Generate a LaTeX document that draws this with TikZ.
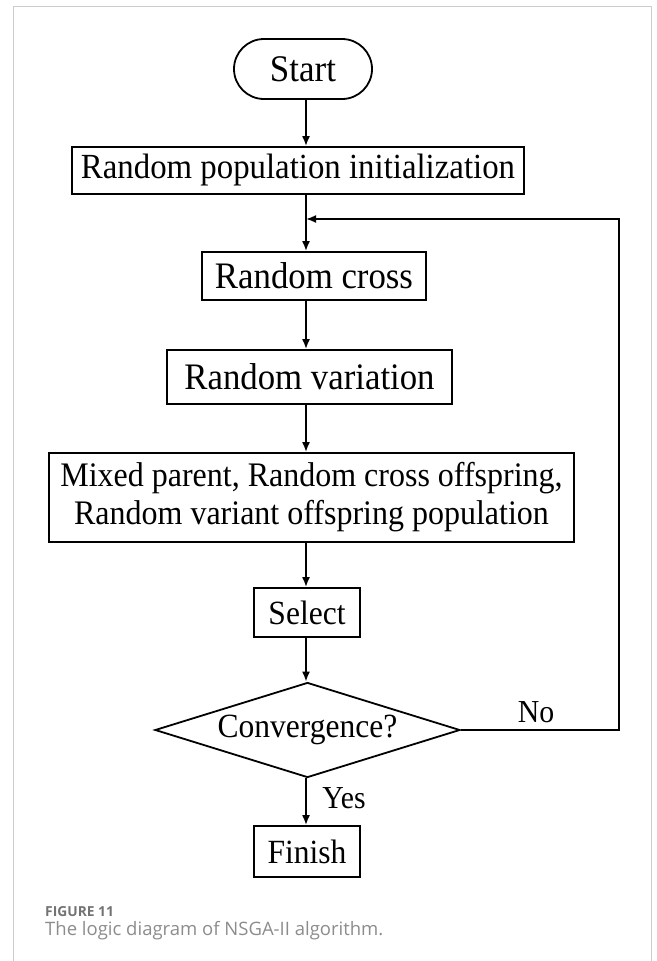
\documentclass[tikz,border=0pt]{standalone}
\usepackage{fontspec}
\setmainfont[FakeStretch=0.93]{Liberation Serif}
\newfontfamily\capfont{Open Sans}
\usetikzlibrary{shapes.geometric,arrows.meta}
\newcommand{\fsz}[1]{\fontsize{#1}{38}\selectfont}
\begin{document}
\begin{tikzpicture}[x=1pt,y=-1pt,
  box/.style={draw=black,line width=1.8pt,inner sep=0pt,align=center},
  arr/.style={draw=black,line width=1.8pt,-{Latex[length=10pt,width=8pt]}},
  lbl/.style={inner sep=0pt}]
\useasboundingbox (0,0) rectangle (656,961);
\draw[color=black!20,line width=1pt] (13,961) -- (13,6) -- (651,6) -- (651,961);
\node[box,rounded corners=30pt,minimum width=138pt,minimum height=60pt,font=\fsz{37.6}] (start) at (303,69) {Start};
\node[box,minimum width=452pt,minimum height=47pt,font=\fsz{35.3}] (init) at (298,170.5) {Random population initialization};
\node[box,minimum width=224pt,minimum height=48pt,font=\fsz{37.4}] (cross) at (314,276) {Random cross};
\node[box,minimum width=285pt,minimum height=54pt,font=\fsz{37.4}] (var) at (309.5,377) {Random variation};
\node[box,minimum width=525pt,minimum height=89pt,font=\fsz{34.4}] (mix) at (311.5,497.5) {Mixed parent, Random cross offspring,\\Random variant offspring population};
\node[box,minimum width=106pt,minimum height=49pt,font=\fsz{33.9}] (sel) at (307,612.5) {Select};
\node[box,shape=diamond,aspect=3.2,minimum width=305pt,minimum height=95pt,font=\fsz{33.9}] (conv) at (307.5,730) {Convergence?};
\node[box,minimum width=106pt,minimum height=51pt,font=\fsz{33.9}] (fin) at (307,851.5) {Finish};
\coordinate (ax) at (306,0);
\coordinate (loopc) at (619,219);
\coordinate (join) at (306,219);
\draw[arr] (start.south -| ax) -- (init.north -| ax);
\draw[arr] (init.south -| ax) -- (cross.north -| ax);
\draw[arr] (cross.south -| ax) -- (var.north -| ax);
\draw[arr] (var.south -| ax) -- (mix.north -| ax);
\draw[arr] (mix.south -| ax) -- (sel.north -| ax);
\draw[arr] (sel.south -| ax) -- (conv.north -| ax);
\draw[arr] (conv.south -| ax) -- (fin.north -| ax);
\draw[arr] (conv.east) -| (loopc) -- (join);
\node[lbl,font=\fsz{32}] (yes) at (344,798) {Yes};
\node[lbl,font=\fsz{32}] (no) at (536,712) {No};
\node[anchor=west,inner sep=0pt,text=black!55,font=\capfont\bfseries\fontsize{13.8}{16}\selectfont] (figno) at (45,912) {FIGURE 11};
\node[anchor=west,inner sep=0pt,text=black!45,font=\capfont\fontsize{18.5}{20}\selectfont] (cap) at (45,931) {The logic diagram of NSGA-II algorithm.};
\end{tikzpicture}
\end{document}
